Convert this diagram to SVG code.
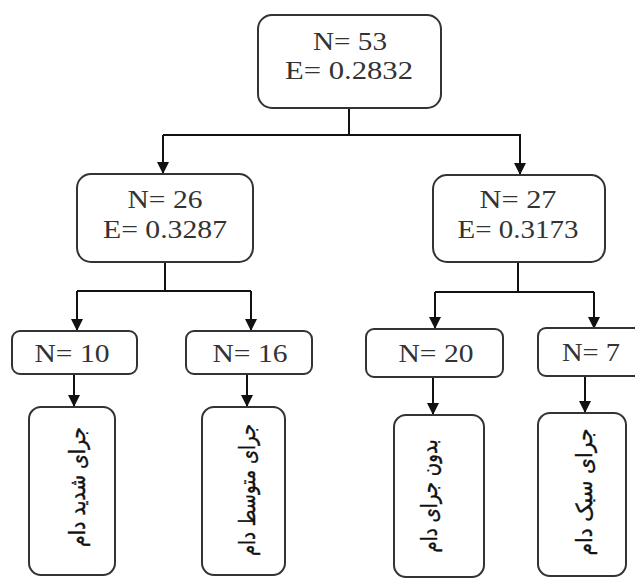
<svg xmlns="http://www.w3.org/2000/svg" width="635" height="578" viewBox="0 0 635 578">
<defs>
<marker id="arr" markerWidth="12" markerHeight="12" refX="11" refY="6" orient="auto" markerUnits="userSpaceOnUse" viewBox="0 0 12 12">
<path d="M0,0 L12,6 L0,12 Z" fill="#111"/>
</marker>
</defs>
<style>
.box{fill:#fff;stroke:#333;stroke-width:2}
.t{font-family:"Liberation Serif","Times New Roman",serif;font-size:26px;fill:#333;text-anchor:middle}
.fa{font-family:"DejaVu Sans","Noto Sans",sans-serif;font-size:22px;fill:#111;stroke:#111;stroke-width:0.4;text-anchor:middle;direction:rtl}
.c{fill:none;stroke:#111;stroke-width:2}
</style>
<rect width="635" height="578" fill="#fff"/>
<g id="connectors">
<path class="c" d="M349,108 V135 M163,135 H521"/>
<path class="c" d="M163,135 V173" marker-end="url(#arr)"/>
<path class="c" d="M520,135 V174" marker-end="url(#arr)"/>
<path class="c" d="M165,262 V291 M77,291 H251"/>
<path class="c" d="M77,291 V330" marker-end="url(#arr)"/>
<path class="c" d="M251,291 V330" marker-end="url(#arr)"/>
<path class="c" d="M518,262 V292 M435,292 H594"/>
<path class="c" d="M435,292 V328" marker-end="url(#arr)"/>
<path class="c" d="M594,292 V328" marker-end="url(#arr)"/>
<path class="c" d="M74,374 V406" marker-end="url(#arr)"/>
<path class="c" d="M247,374 V406" marker-end="url(#arr)"/>
<path class="c" d="M433,377 V414" marker-end="url(#arr)"/>
<path class="c" d="M585,376 V412" marker-end="url(#arr)"/>
</g>
<g id="root">
<rect class="box" x="258" y="15" width="183" height="93" rx="14"/>
<text class="t" x="350" y="50" textLength="74" lengthAdjust="spacingAndGlyphs">N= 53</text>
<text class="t" x="349" y="79" textLength="128" lengthAdjust="spacingAndGlyphs">E= 0.2832</text>
</g>
<g id="n26">
<rect class="box" x="77" y="174" width="176" height="88" rx="14"/>
<text class="t" x="165" y="208" textLength="75" lengthAdjust="spacingAndGlyphs">N= 26</text>
<text class="t" x="165" y="238" textLength="124" lengthAdjust="spacingAndGlyphs">E= 0.3287</text>
</g>
<g id="n27">
<rect class="box" x="433" y="175" width="172" height="87" rx="14"/>
<text class="t" x="518" y="208" textLength="77" lengthAdjust="spacingAndGlyphs">N= 27</text>
<text class="t" x="518" y="238" textLength="121" lengthAdjust="spacingAndGlyphs">E= 0.3173</text>
</g>
<g id="n10">
<rect class="box" x="12" y="331" width="125" height="43" rx="8"/>
<text class="t" x="72" y="362" textLength="75" lengthAdjust="spacingAndGlyphs">N= 10</text>
</g>
<g id="n16">
<rect class="box" x="186" y="331" width="126" height="43" rx="8"/>
<text class="t" x="250" y="362" textLength="75" lengthAdjust="spacingAndGlyphs">N= 16</text>
</g>
<g id="n20">
<rect class="box" x="366" y="329" width="137" height="48" rx="8"/>
<text class="t" x="436" y="362" textLength="75" lengthAdjust="spacingAndGlyphs">N= 20</text>
</g>
<g id="n7">
<rect class="box" x="538" y="328" width="115" height="48" rx="8"/>
<text class="t" x="591" y="361" textLength="58" lengthAdjust="spacingAndGlyphs">N= 7</text>
</g>
<g id="leaf1">
<rect class="box" x="29" y="407" width="86" height="168" rx="12"/>
<text class="fa" transform="translate(78,487) rotate(-90)" y="7" textLength="120" lengthAdjust="spacingAndGlyphs">جرای شدید دام</text>
</g>
<g id="leaf2">
<rect class="box" x="202" y="407" width="83" height="168" rx="12"/>
<text class="fa" transform="translate(248,490) rotate(-90)" y="7" textLength="132" lengthAdjust="spacingAndGlyphs">جرای متوسط دام</text>
</g>
<g id="leaf3">
<rect class="box" x="394" y="415" width="90" height="162" rx="12"/>
<text class="fa" transform="translate(430,496) rotate(-90)" y="7" textLength="113" lengthAdjust="spacingAndGlyphs">بدون جرای دام</text>
</g>
<g id="leaf4">
<rect class="box" x="538" y="413" width="88" height="163" rx="12"/>
<text class="fa" transform="translate(585,492) rotate(-90)" y="7" textLength="127" lengthAdjust="spacingAndGlyphs">جرای سبک دام</text>
</g>
</svg>
